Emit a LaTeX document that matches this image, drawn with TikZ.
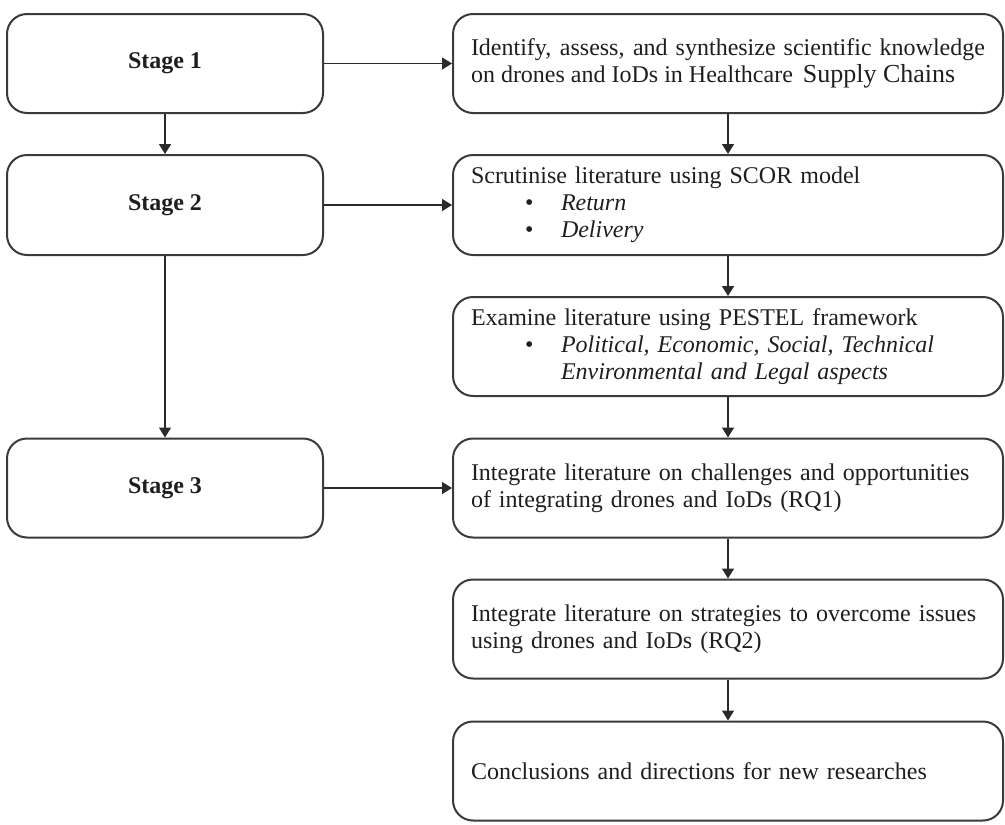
\documentclass[tikz,border=0pt]{standalone}
\usepackage{fontspec}
\setmainfont{Liberation Serif}
\usetikzlibrary{arrows.meta}
\definecolor{boxgray}{HTML}{3A3A3A}
\definecolor{linegray}{HTML}{2A2A2A}
\definecolor{txt}{HTML}{1E1E1E}
\newcommand{\bul}[1]{\hspace*{54pt}\makebox[36pt][l]{\textbullet}\textit{#1}}
\begin{document}
\begin{tikzpicture}[x=1pt,y=-1pt,
  stagebox/.style={draw=boxgray, line width=2pt, rounded corners=20pt,
    minimum width=316pt, minimum height=99pt, inner sep=0pt, text=txt,
    font=\fontsize{24}{28}\selectfont\bfseries},
  taskbox/.style={draw=boxgray, line width=2pt, rounded corners=20pt,
    minimum width=550pt, minimum height=99pt, text width=514pt,
    inner xsep=18pt, inner ysep=0pt, text=txt, align=left,
    font=\fontsize{24}{27}\selectfont},
  conn/.style={draw=linegray, line width=1.6pt, -{Triangle[length=10pt,width=12pt]}}
]
\useasboundingbox (0,0) rectangle (1005,825);

% left column
\node[stagebox] (s1) at (165,63.5) {Stage 1};
\node[stagebox, minimum height=100pt] (s2) at (165,205) {Stage 2};
\node[stagebox] (s3) at (165,488) {Stage 3};

% right column
\node[taskbox, align=justify] (t1) at (728,63.5)
  {Identify, assess, and synthesize scientific knowledge on drones and IoDs in Healthcare \,{\fontsize{26}{27}\selectfont Supply Chains}};
\node[taskbox, minimum height=100pt] (t2) at (728,205)
  {Scrutinise literature using SCOR model\\ \bul{Return}\\ \bul{Delivery}};
\node[taskbox] (t3) at (728,346.5)
  {Examine literature using PESTEL framework\\ \bul{Political, Economic, Social, Technical}\\ \hspace*{90pt}\textit{Environmental and Legal aspects}};
\node[taskbox] (t4) at (728,488)
  {Integrate literature on challenges and opportunities\\ of integrating drones and IoDs (RQ1)};
\node[taskbox] (t5) at (728,629)
  {Integrate literature on strategies to overcome issues\\ using drones and IoDs (RQ2)};
\node[taskbox] (t6) at (728,771)
  {Conclusions and directions for new researches};

% connectors
\draw[conn] (s1.east) -- (t1.west);
\draw[conn] (s2.east) -- (t2.west);
\draw[conn] (s3.east) -- (t4.west);
\draw[conn] (s1.south) -- (s2.north);
\draw[conn] (s2.south) -- (s3.north);
\draw[conn] (t1.south) -- (t2.north);
\draw[conn] (t2.south) -- (t3.north);
\draw[conn] (t3.south) -- (t4.north);
\draw[conn] (t4.south) -- (t5.north);
\draw[conn] (t5.south) -- (t6.north);
\end{tikzpicture}
\end{document}
